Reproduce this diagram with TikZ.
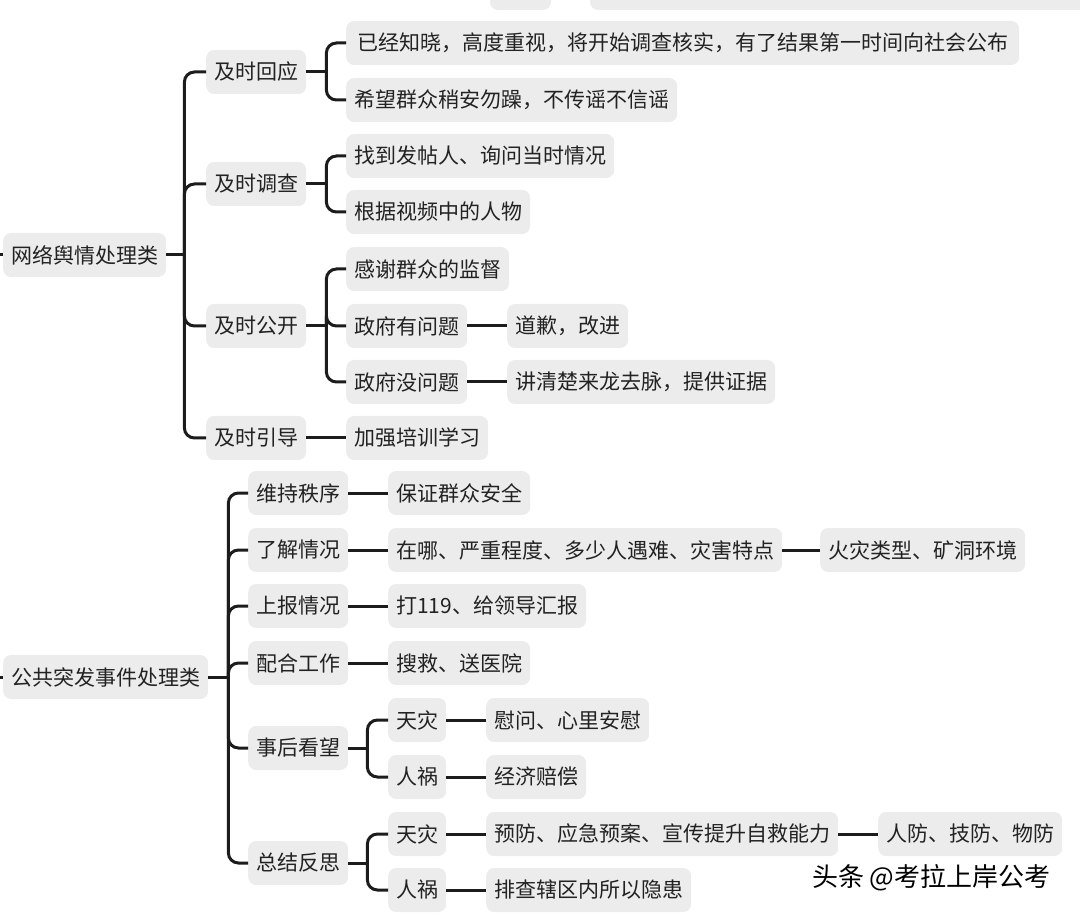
\documentclass[tikz,border=0pt]{standalone}
\usepackage{fontspec}
\setmainfont{Noto Sans CJK SC}
\definecolor{boxgray}{RGB}{236,236,236}
\definecolor{linegray}{RGB}{28,28,28}
\definecolor{textgray}{RGB}{34,34,34}

\begin{document}
\begin{tikzpicture}[x=1pt,y=-1pt,
	topic/.style={fill=boxgray,rounded corners=8pt,anchor=west,inner xsep=8pt,inner ysep=0pt,minimum height=44pt,text=textgray,font=\fontsize{21}{25}\selectfont},
	link/.style={draw=linegray,line width=3pt},
	fork/.style={link,rounded corners=10pt}]
	\useasboundingbox (0,0) rectangle (1080,917);
	% boxes cut off at the top edge
	\fill[boxgray,rounded corners=8pt] (490,-40) rectangle (551,10);
	\fill[boxgray,rounded corners=8pt] (590,-40) rectangle (1100,10);

	% first tree
	\node[topic] (r1) at (3,255) {网络舆情处理类};
	\node[topic] (a1) at (206,72) {及时回应};
	\node[topic] (a2) at (206,184) {及时调查};
	\node[topic] (a3) at (206,326) {及时公开};
	\node[topic] (a4) at (206,438) {及时引导};
	\node[topic,minimum width=673pt] (b11) at (346,43) {已经知晓，高度重视，将开始调查核实，有了结果第一时间向社会公布};
	\node[topic] (b12) at (346,100) {希望群众稍安勿躁，不传谣不信谣};
	\node[topic,minimum width=267pt] (b21) at (346,156) {找到发帖人、询问当时情况};
	\node[topic] (b22) at (346,212) {根据视频中的人物};
	\node[topic] (b31) at (346,269) {感谢群众的监督};
	\node[topic] (b32) at (346,326) {政府有问题};
	\node[topic] (b33) at (346,382) {政府没问题};
	\node[topic] (b41) at (346,438) {加强培训学习};
	\node[topic] (c32) at (507,326) {道歉，改进};
	\node[topic] (c33) at (507,382) {讲清楚来龙去脉，提供证据};

	% second tree
	\node[topic] (r2) at (3,677) {公共突发事件处理类};
	\node[topic] (d1) at (248,493) {维持秩序};
	\node[topic] (d2) at (248,550) {了解情况};
	\node[topic] (d3) at (248,606) {上报情况};
	\node[topic] (d4) at (248,663) {配合工作};
	\node[topic] (d5) at (248,748) {事后看望};
	\node[topic] (d6) at (248,863) {总结反思};
	\node[topic] (e1) at (388,493) {保证群众安全};
	\node[topic] (e2) at (388,550) {在哪、严重程度、多少人遇难、灾害特点};
	\node[topic] (e3) at (388,606) {打119、给领导汇报};
	\node[topic] (e4) at (388,663) {搜救、送医院};
	\node[topic] (e51) at (388,720) {天灾};
	\node[topic] (e52) at (388,777) {人祸};
	\node[topic] (e61) at (388,834) {天灾};
	\node[topic] (e62) at (388,890) {人祸};
	\node[topic] (f2) at (820,550) {火灾类型、矿洞环境};
	\node[topic] (f51) at (486,720) {慰问、心里安慰};
	\node[topic] (f52) at (486,777) {经济赔偿};
	\node[topic] (f61) at (486,834) {预防、应急预案、宣传提升自救能力};
	\node[topic] (f62) at (486,890) {排查辖区内所以隐患};
	\node[topic] (g61) at (878,834) {人防、技防、物防};

	% watermark
	\node[anchor=east,text=black,font=\fontsize{26}{30}\selectfont] (mark) at (1054,878) {头条 @考拉上岸公考};

	% stubs from the left edge
	\coordinate (in1) at (0,255);
	\coordinate (in2) at (0,677);
	\draw[link] (in1) -- (r1.west);
	\draw[link] (in2) -- (r2.west);

	% forks
	\coordinate (jr1) at ([xshift=18pt]r1.east);
	\draw[link] (r1.east) -- (jr1);
	\foreach \c in {a1,a2,a3,a4}
		\draw[fork] (jr1) |- (\c.west);
	\coordinate (ja1) at ([xshift=20pt]a1.east);
	\draw[link] (a1.east) -- (ja1);
	\foreach \c in {b11,b12}
		\draw[fork] (ja1) |- (\c.west);
	\coordinate (ja2) at ([xshift=20pt]a2.east);
	\draw[link] (a2.east) -- (ja2);
	\foreach \c in {b21,b22}
		\draw[fork] (ja2) |- (\c.west);
	\coordinate (ja3) at ([xshift=20pt]a3.east);
	\draw[link] (a3.east) -- (ja3);
	\foreach \c in {b31,b32,b33}
		\draw[fork] (ja3) |- (\c.west);
	\draw[link] (a4.east) -- (b41.west);
	\draw[link] (b32.east) -- (c32.west);
	\draw[link] (b33.east) -- (c33.west);

	\coordinate (jr2) at ([xshift=20pt]r2.east);
	\draw[link] (r2.east) -- (jr2);
	\foreach \c in {d1,d2,d3,d4,d5,d6}
		\draw[fork] (jr2) |- (\c.west);
	\foreach \p/\c in {d1/e1,d2/e2,d3/e3,d4/e4,e2/f2,e51/f51,e52/f52,e61/f61,e62/f62,f61/g61}
		\draw[link] (\p.east) -- (\c.west);
	\coordinate (jd5) at ([xshift=19pt]d5.east);
	\draw[link] (d5.east) -- (jd5);
	\foreach \c in {e51,e52}
		\draw[fork] (jd5) |- (\c.west);
	\coordinate (jd6) at ([xshift=19pt]d6.east);
	\draw[link] (d6.east) -- (jd6);
	\foreach \c in {e61,e62}
		\draw[fork] (jd6) |- (\c.west);
\end{tikzpicture}
\end{document}
